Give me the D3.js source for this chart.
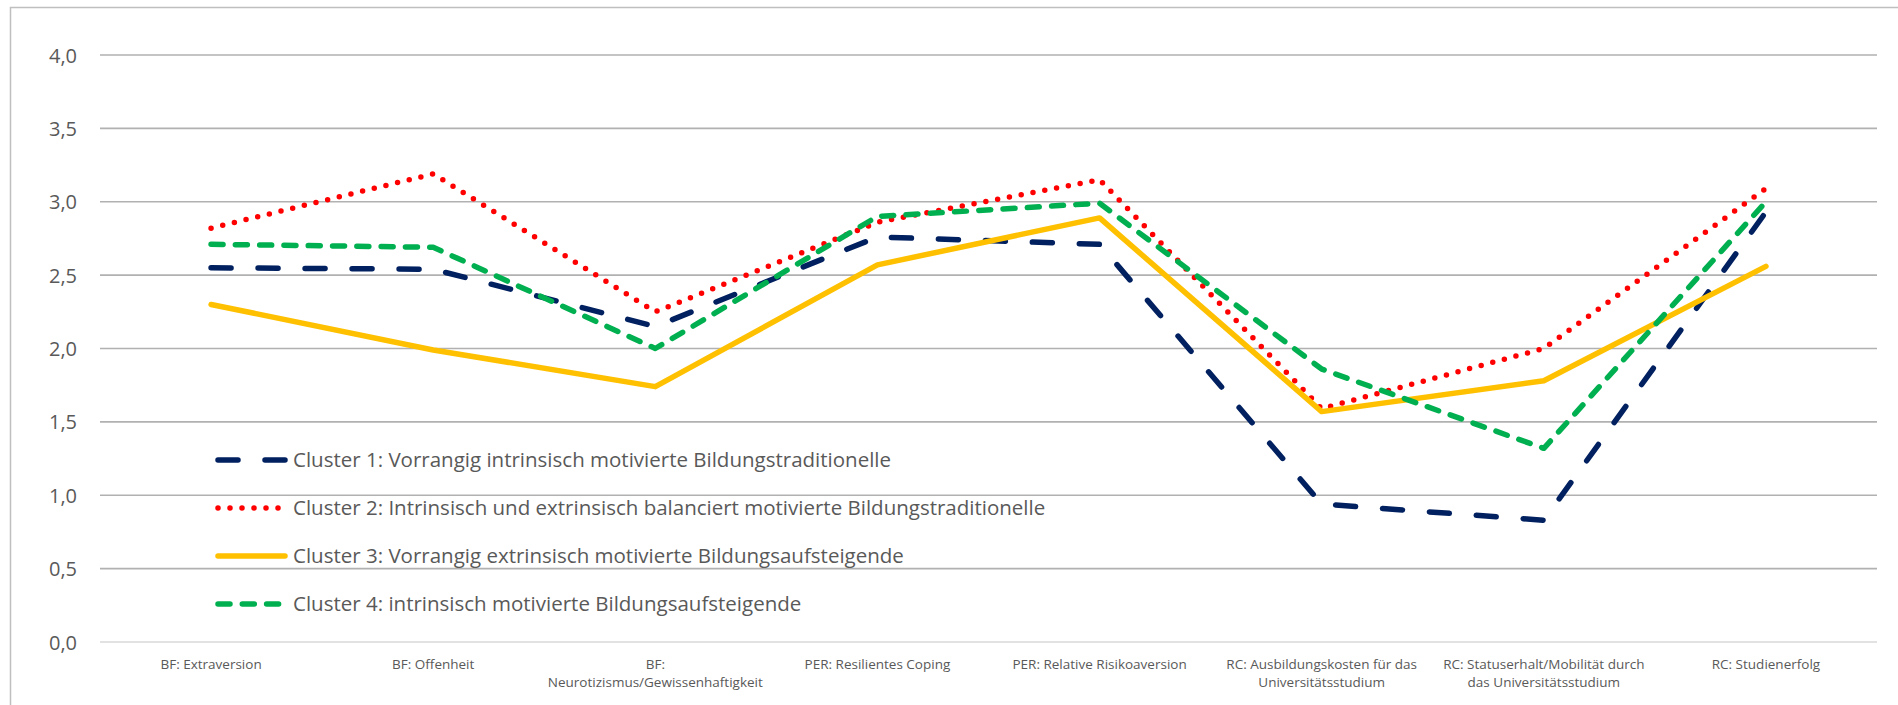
<!DOCTYPE html>
<html>
<head>
<meta charset="utf-8">
<script src="https://cdn.jsdelivr.net/npm/d3@7"></script>
<style>
  html, body { margin: 0; padding: 0; background: #ffffff; }
  svg { display: block; }
</style>
</head>
<body>
<svg id="chart" width="1898" height="705"></svg>
<script>
// ---- data ----
const categories = [
  "BF: Extraversion",
  "BF: Offenheit",
  "BF:\nNeurotizismus/Gewissenhaftigkeit",
  "PER: Resilientes Coping",
  "PER: Relative Risikoaversion",
  "RC: Ausbildungskosten für das\nUniversitätsstudium",
  "RC: Statuserhalt/Mobilität durch\ndas Universitätsstudium",
  "RC: Studienerfolg"
];
const seriesNames = [
  "Cluster 1: Vorrangig intrinsisch motivierte Bildungstraditionelle",
  "Cluster 2: Intrinsisch und extrinsisch balanciert motivierte Bildungstraditionelle",
  "Cluster 3: Vorrangig extrinsisch motivierte Bildungsaufsteigende",
  "Cluster 4: intrinsisch motivierte Bildungsaufsteigende"
];
const cluster1 = [2.55, 2.54, 2.15, 2.76, 2.71, 0.94, 0.83, 2.93];
const cluster2 = [2.82, 3.19, 2.25, 2.86, 3.15, 1.59, 2.00, 3.09];
const cluster3 = [2.30, 1.99, 1.74, 2.57, 2.89, 1.57, 1.78, 2.56];
const cluster4 = [2.71, 2.69, 2.00, 2.90, 2.99, 1.86, 1.32, 3.00];
const yTicks = [0, 0.5, 1.0, 1.5, 2.0, 2.5, 3.0, 3.5, 4.0];

// ---- styles ----
const styles = [
  { color: "#002060", dash: "20,27" },
  { color: "#ff0000", dash: "0,12" },
  { color: "#ffc000", dash: null },
  { color: "#00b050", dash: "12,12.3" }
];
const allSeries = [cluster1, cluster2, cluster3, cluster4];

const svg = d3.select("#chart");
const W = 1898, H = 705;
const plot = { left: 100, right: 1877, top: 55, bottom: 642 };

// outer border
svg.append("rect")
  .attr("x", 10.5).attr("y", 7.5)
  .attr("width", W + 20).attr("height", H + 20)
  .attr("fill", "none").attr("stroke", "#bfbfbf").attr("stroke-width", 1.5);

const x = d3.scaleBand().domain(categories).range([plot.left, plot.right]).padding(0);
const y = d3.scaleLinear().domain([0, 4]).range([plot.bottom, plot.top]);

// gridlines
const grid = svg.append("g");
grid.selectAll("line").data(yTicks).join("line")
  .attr("x1", plot.left).attr("x2", plot.right)
  .attr("y1", d => y(d)).attr("y2", d => y(d))
  .attr("stroke", d => d === 0 ? "#d9d9d9" : "#b1b1b1")
  .attr("stroke-width", 1.6);

// y axis labels
const yAxis = d3.axisLeft(y).tickValues(yTicks).tickSize(0).tickPadding(0)
  .tickFormat(d => d3.format(".1f")(d).replace(".", ","));
const yg = svg.append("g").attr("transform", `translate(77,0)`).call(yAxis);
yg.select(".domain").remove();
yg.selectAll("text")
  .attr("font-family", "'Open Sans', 'Noto Sans', sans-serif")
  .attr("font-size", 20).attr("fill", "#595959").attr("dy", "0.35em");

// x axis labels
const xAxis = d3.axisBottom(x).tickSize(0).tickFormat("");
const xg = svg.append("g").attr("transform", `translate(0,${plot.bottom})`).call(xAxis);
xg.select(".domain").remove();
xg.selectAll(".tick").each(function(d) {
  const t = d3.select(this).append("text")
    .attr("text-anchor", "middle")
    .attr("font-family", "'Liberation Sans Narrow', 'Arial Narrow', 'Open Sans', sans-serif")
    .attr("font-size", 13.5).attr("fill", "#595959");
  d.split("\n").forEach((line, i) => {
    t.append("tspan").attr("x", 0).attr("y", 27 + i * 18).text(line);
  });
});

// lines
const line = d3.line()
  .x((d, i) => x(categories[i]) + x.bandwidth() / 2)
  .y(d => y(d));

const linesG = svg.append("g");
allSeries.forEach((s, k) => {
  linesG.append("path")
    .datum(s)
    .attr("d", line)
    .attr("fill", "none")
    .attr("stroke", styles[k].color)
    .attr("stroke-width", 5.5)
    .attr("stroke-linecap", "round")
    .attr("stroke-linejoin", "round")
    .attr("stroke-dasharray", styles[k].dash);
});

// legend
const legend = svg.append("g");
seriesNames.forEach((name, k) => {
  const ly = 460 + k * 48;
  legend.append("line")
    .attr("x1", 218).attr("x2", 285)
    .attr("y1", ly).attr("y2", ly)
    .attr("stroke", styles[k].color)
    .attr("stroke-width", 5.5)
    .attr("stroke-linecap", "round")
    .attr("stroke-dasharray", styles[k].dash);
  legend.append("text")
    .attr("x", 293).attr("y", ly).attr("dy", "0.35em")
    .attr("font-family", "'Open Sans', 'Noto Sans', sans-serif")
    .attr("font-size", 20.5).attr("fill", "#595959")
    .text(name);
});
</script>
</body>
</html>
